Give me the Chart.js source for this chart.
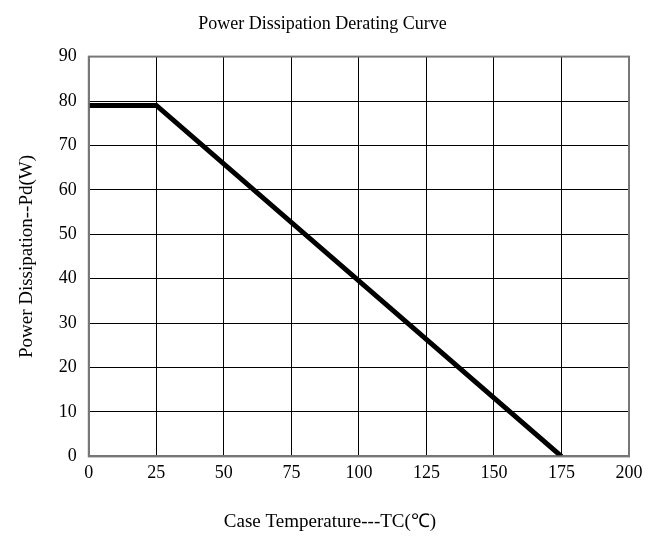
<!DOCTYPE html>
<html>
<head>
<meta charset="utf-8">
<script src="https://cdn.jsdelivr.net/npm/chart.js@4"></script>
<style>
  html, body { margin: 0; padding: 0; background: #fff; }
  #wrap { width: 660px; height: 544px; }
</style>
</head>
<body>
<div id="wrap"><canvas id="chart" width="660" height="544"></canvas></div>
<script>
const temps = [0, 25, 175];
const power = [79, 79, 0];
const xTicks = [0, 25, 50, 75, 100, 125, 150, 175, 200];
const yTicks = [0, 10, 20, 30, 40, 50, 60, 70, 80, 90];
const xLabel = 'Case Temperature---TC(℃)';

const ctx = document.getElementById('chart');
const font = 'Liberation Serif';

new Chart(ctx, {
  type: 'line',
  data: {
    datasets: [{
      data: temps.map((t, i) => ({ x: t, y: power[i] })),
      borderColor: '#000',
      borderWidth: 5,
      pointRadius: 0,
      tension: 0,
      fill: false
    }]
  },
  options: {
    responsive: false,
    animation: false,
    layout: { padding: { left: 16, right: 31, top: 4, bottom: 54 } },
    plugins: {
      legend: { display: false },
      tooltip: { enabled: false },
      title: {
        display: true,
        text: 'Power Dissipation Derating Curve',
        color: '#000',
        font: { family: font, size: 18, weight: 'normal' },
        padding: { top: 9, bottom: 22 }
      }
    },
    scales: {
      x: {
        type: 'linear',
        min: 0, max: 200,
        afterBuildTicks: axis => { axis.ticks = xTicks.map(v => ({ value: v })); },
        grid: { color: '#000', lineWidth: 1, drawTicks: false },
        border: { color: '#777', width: 2 },
        ticks: { color: '#000', font: { family: font, size: 18 }, padding: 6, maxRotation: 0 }
      },
      y: {
        min: 0, max: 90,
        afterBuildTicks: axis => { axis.ticks = yTicks.map(v => ({ value: v })); },
        grid: { color: '#000', lineWidth: 1, drawTicks: false },
        border: { color: '#777', width: 2 },
        ticks: { color: '#000', font: { family: font, size: 18 }, padding: 12 },
        title: {
          display: true,
          text: 'Power Dissipation--Pd(W)',
          color: '#000',
          font: { family: font, size: 19 },
          padding: { top: 0, bottom: 8 }
        }
      }
    }
  },
  plugins: [{
    id: 'frame',
    afterDraw(chart) {
      const { ctx, chartArea: a } = chart;
      ctx.save();
      ctx.strokeStyle = '#777';
      ctx.lineWidth = 2;
      ctx.strokeRect(a.left, a.top, a.right - a.left, a.bottom - a.top);
      // x-axis title sits centred on the figure, not on the plot area
      ctx.fillStyle = '#000';
      ctx.font = '19px "' + font + '"';
      ctx.textAlign = 'center';
      ctx.textBaseline = 'middle';
      ctx.fillText(xLabel, chart.width / 2, a.bottom + 66);
      ctx.restore();
    }
  }]
});
</script>
</body>
</html>
